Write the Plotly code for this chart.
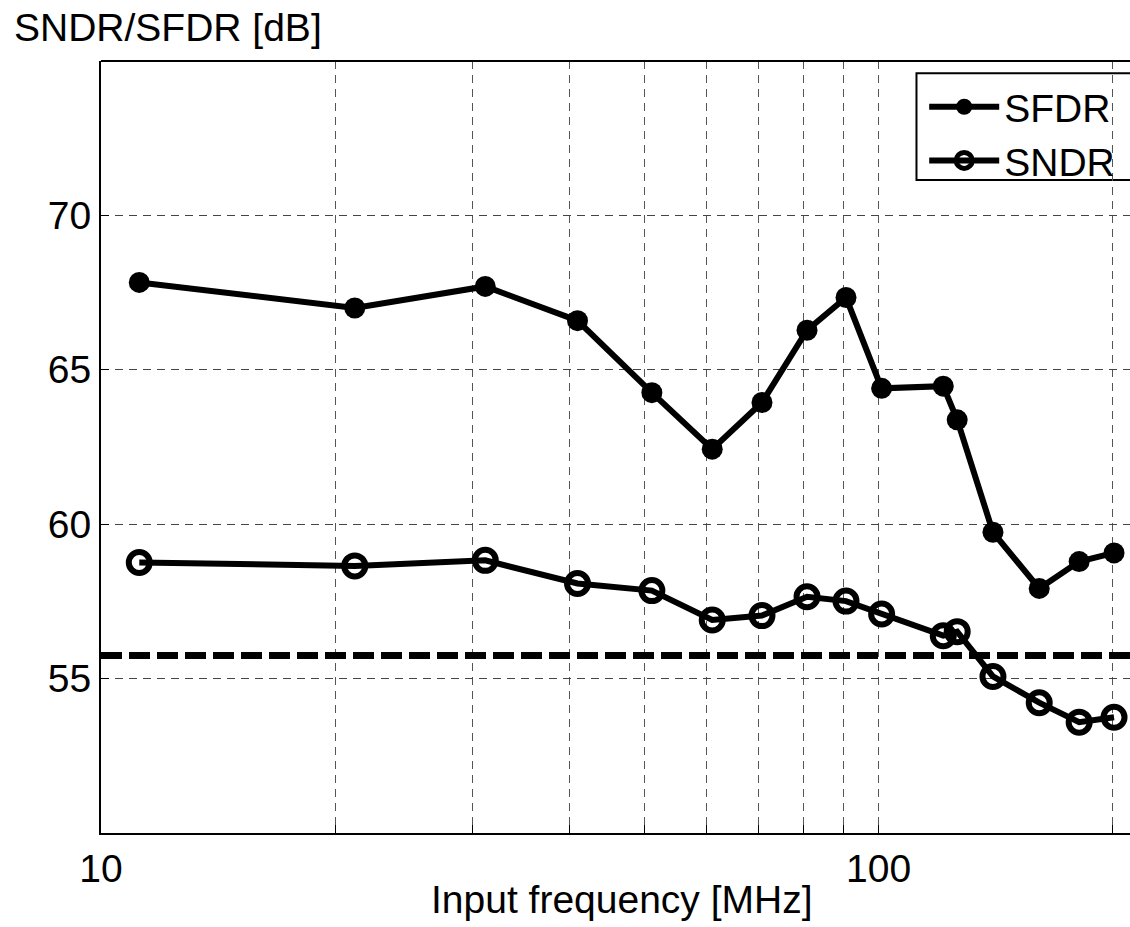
import plotly.graph_objects as go

# ---- data ----
freq_mhz = [11.2, 21.2, 31.2, 41.0, 51.1, 61.1, 70.8, 80.9, 90.8, 100.9,
            121.1, 126.2, 140.3, 160.9, 181.1, 200.8]
sfdr_db = [67.83, 67.00, 67.70, 66.59, 64.26, 62.43, 63.94, 66.28, 67.34, 64.40,
           64.47, 63.38, 59.74, 57.92, 58.79, 59.07]
sndr_db = [58.76, 58.65, 58.83, 58.08, 57.85, 56.90, 57.04, 57.65, 57.51, 57.09,
           56.39, 56.52, 55.07, 54.22, 53.59, 53.75]
threshold_db = 55.75

x_tickvals = [10, 20, 30, 40, 50, 60, 70, 80, 90, 100, 200]
x_ticktext = ["10", "", "", "", "", "", "", "", "", "100", ""]
y_tickvals = [55, 60, 65, 70]
y_ticktext = ["55", "60", "65", "70"]

FONT = "Liberation Sans, Arial, sans-serif"
FS = 39

fig = go.Figure()

fig.add_trace(go.Scatter(
    x=freq_mhz, y=sfdr_db, name="SFDR", mode="lines+markers",
    line=dict(color="black", width=6),
    marker=dict(symbol="circle", size=21, color="black", line=dict(width=0)),
))
fig.add_trace(go.Scatter(
    x=freq_mhz, y=sndr_db, name="SNDR", mode="lines+markers",
    line=dict(color="black", width=6),
    marker=dict(symbol="circle-open", size=21, color="black",
                line=dict(width=6, color="black")),
))

# threshold line
fig.add_shape(type="line", xref="paper", yref="y", x0=0, x1=1.1,
              y0=threshold_db, y1=threshold_db,
              line=dict(color="black", width=7, dash="21px,7px"))

# top border of the axes box
fig.add_shape(type="line", xref="paper", yref="paper", x0=0, x1=1.05, y0=1, y1=1,
              line=dict(color="black", width=2))

# legend box (extends past right edge like the reference)
fig.add_shape(type="rect", xref="paper", yref="paper", x0=0.7925, x1=1.08,
              y0=0.846, y1=0.984, line=dict(color="black", width=2),
              fillcolor="white", layer="below")

fig.update_xaxes(
    type="log", range=[1, 2.3233],
    tickmode="array", tickvals=x_tickvals, ticktext=x_ticktext,
    showgrid=True, gridcolor="#555", gridwidth=1, griddash="8px,6px",
    showline=True, linecolor="black", linewidth=2,
    ticks="inside", ticklen=8, tickcolor="black", tickwidth=1,
    tickfont=dict(family=FONT, size=FS, color="black"),
    zeroline=False,
)
fig.update_yaxes(
    range=[50, 75],
    tickmode="array", tickvals=y_tickvals, ticktext=y_ticktext,
    showgrid=True, gridcolor="#444", gridwidth=1, griddash="8px,6px",
    showline=True, linecolor="black", linewidth=2,
    ticks="inside", ticklen=8, tickcolor="black", tickwidth=1,
    tickfont=dict(family=FONT, size=FS, color="black"),
    zeroline=False,
)

fig.add_annotation(text="SNDR/SFDR [dB]", xref="paper", yref="paper",
                   x=-0.0865, y=1.043, xanchor="left", yanchor="middle",
                   showarrow=False, font=dict(family=FONT, size=FS, color="black"))
fig.add_annotation(text="Input frequency [MHz]", xref="paper", yref="paper",
                   x=0.5065, y=-0.086, xanchor="center", yanchor="middle",
                   showarrow=False, font=dict(family=FONT, size=FS, color="black"))

fig.update_layout(
    width=1130, height=927,
    margin=dict(l=101, r=0, t=61, b=94),
    paper_bgcolor="white", plot_bgcolor="white",
    font=dict(family=FONT, size=FS, color="black"),
    showlegend=True,
    legend=dict(x=0.80, y=0.982, xanchor="left", yanchor="top",
                bgcolor="rgba(0,0,0,0)", borderwidth=0,
                font=dict(family=FONT, size=FS, color="black"),
                itemwidth=70, tracegroupgap=0),
)

fig.write_html("out.html")
